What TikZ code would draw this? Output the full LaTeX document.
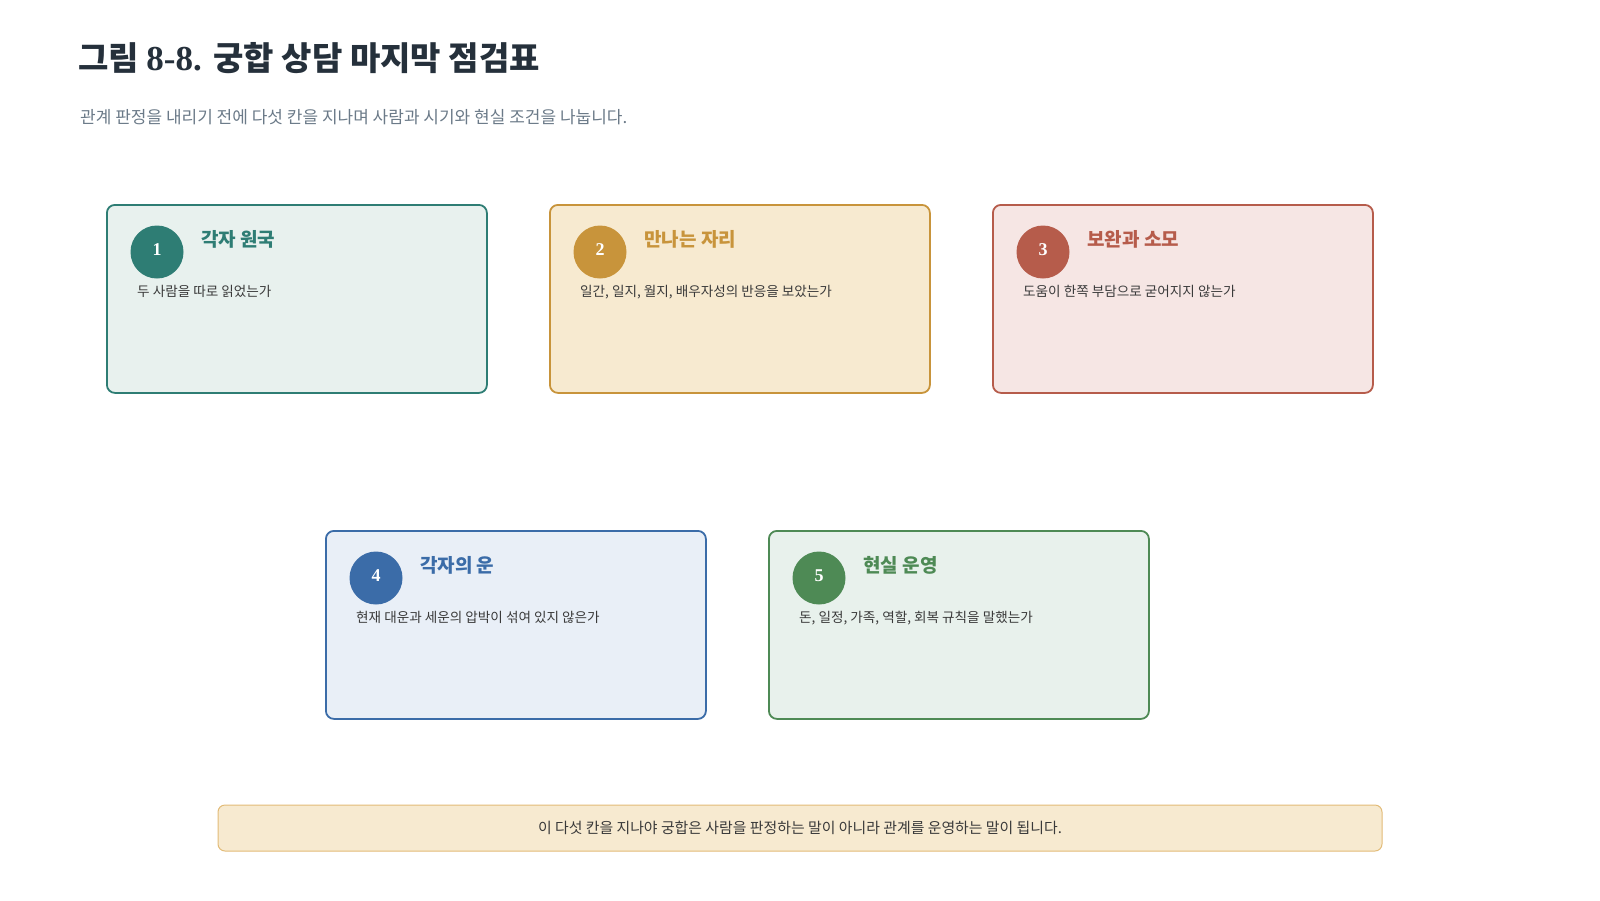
\documentclass[tikz,border=0pt]{standalone}
\usepackage{fontspec}
\setmainfont{Liberation Serif}
\newfontfamily\kr{Noto Sans CJK KR}
\definecolor{tealc}{HTML}{2E7D74}\definecolor{tealf}{HTML}{E8F1EE}
\definecolor{goldc}{HTML}{C8943B}\definecolor{goldf}{HTML}{F7EAD0}
\definecolor{redc}{HTML}{B65C4B}\definecolor{redf}{HTML}{F6E6E4}
\definecolor{bluec}{HTML}{3B6CA8}\definecolor{bluef}{HTML}{E9EFF7}
\definecolor{greenc}{HTML}{4E8A55}\definecolor{greenf}{HTML}{E8F1EC}
\definecolor{titlec}{HTML}{25303B}\definecolor{subc}{HTML}{6B7A88}
\definecolor{descc}{HTML}{3A3A3A}\definecolor{footb}{HTML}{E2BB77}
\tikzset{
  cardbox/.style={draw=#1c, fill=#1f, line width=1.8pt, rounded corners=8pt,
    minimum width=380pt, minimum height=188pt, anchor=north west, inner sep=0pt},
  numdot/.style={circle, fill=#1c, minimum size=53pt, inner sep=0pt},
  numtext/.style={text=white, inner sep=0pt, font=\fontsize{18}{20}\selectfont\bfseries},
  cardtitle/.style={anchor=base west, text=#1c, inner sep=0pt,
    font=\kr\bfseries\fontsize{19}{22}\selectfont},
  carddesc/.style={anchor=base west, text=descc, inner sep=0pt,
    font=\kr\fontsize{13.6}{16}\selectfont},
}
\newcommand\mycard[7]{%
  \node[cardbox=#4] (b#1) at (#2,#3) {};
  \node[numdot=#4] (c#1) at ([xshift=51pt,yshift=-48pt]b#1.north west) {};
  \node[numtext] (n#1) at ([yshift=2pt]c#1.center) {#5};
  \node[cardtitle=#4] (t#1) at ([xshift=95pt,yshift=-42pt]b#1.north west) {#6};
  \node[carddesc] (d#1) at ([xshift=31pt,yshift=-92pt]b#1.north west) {#7};
}
\begin{document}
\begin{tikzpicture}[x=1pt,y=-1pt]
\useasboundingbox (0,0) rectangle (1600,900);
\node[anchor=base west, inner sep=0pt, text=titlec] (title) at (78,70)
  {{\kr\bfseries\fontsize{33}{38}\selectfont 그림 }{\bfseries\fontsize{35}{38}\selectfont 8-8. }{\kr\bfseries\fontsize{33}{38}\selectfont 궁합 상담 마지막 점검표}};
\node[anchor=base west, inner sep=0pt, text=subc, font=\kr\fontsize{17}{20}\selectfont] (sub) at (80,123)
  {관계 판정을 내리기 전에 다섯 칸을 지나며 사람과 시기와 현실 조건을 나눕니다.};
\mycard{1}{106}{204}{teal}{1}{각자 원국}{두 사람을 따로 읽었는가}
\mycard{2}{549}{204}{gold}{2}{만나는 자리}{일간, 일지, 월지, 배우자성의 반응을 보았는가}
\mycard{3}{992}{204}{red}{3}{보완과 소모}{도움이 한쪽 부담으로 굳어지지 않는가}
\mycard{4}{325}{530}{blue}{4}{각자의 운}{현재 대운과 세운의 압박이 섞여 있지 않은가}
\mycard{5}{768}{530}{green}{5}{현실 운영}{돈, 일정, 가족, 역할, 회복 규칙을 말했는가}
\node[draw=footb, fill=goldf, line width=1pt, rounded corners=7pt, minimum width=1164pt,
  minimum height=46pt, inner sep=0pt, text=descc, font=\kr\fontsize{14.9}{18}\selectfont] (foot) at (800,828)
  {이 다섯 칸을 지나야 궁합은 사람을 판정하는 말이 아니라 관계를 운영하는 말이 됩니다.};
\end{tikzpicture}
\end{document}
